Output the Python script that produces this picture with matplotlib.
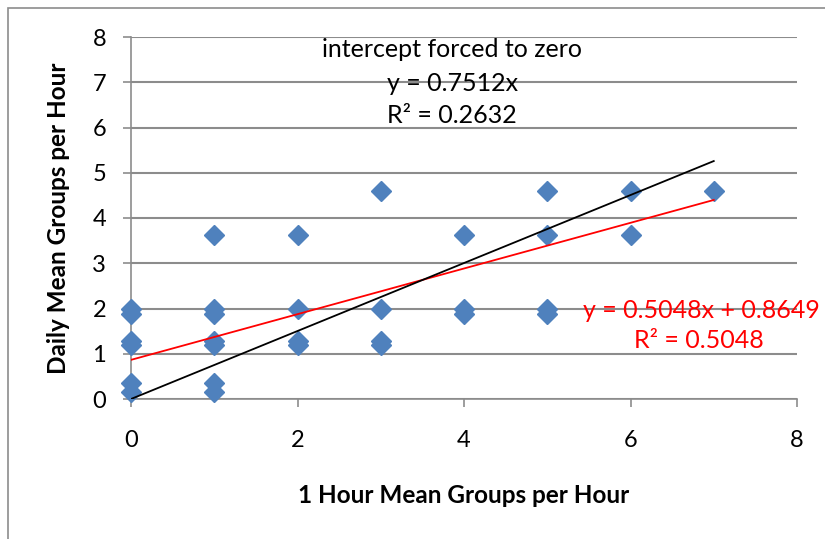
import matplotlib.pyplot as plt
import numpy as np
from matplotlib.patches import Rectangle

# scatter data (1 hour mean vs daily mean groups per hour)
x_vals = [0, 0, 0, 0, 0, 0,
          1, 1, 1, 1, 1, 1, 1,
          2, 2, 2, 2,
          3, 3, 3, 3,
          4, 4, 4,
          5, 5, 5, 5,
          6, 6,
          7]
y_vals = [2.0, 1.87, 1.29, 1.2, 0.36, 0.16,
          3.63, 2.0, 1.87, 1.29, 1.2, 0.36, 0.16,
          3.63, 2.0, 1.29, 1.2,
          4.59, 2.0, 1.29, 1.2,
          3.63, 2.0, 1.87,
          4.59, 3.63, 2.0, 1.87,
          4.59, 3.63,
          4.59]

# trendline coefficients shown on the chart
lin_slope, lin_icpt = 0.5048, 0.8649
zero_slope = 0.7512
trend_x = [0, 7]

font = "Lato"
plt.rcParams['font.family'] = [font, 'DejaVu Sans']

fig = plt.figure(figsize=(8.25, 5.39), dpi=100)
fig.patches.append(Rectangle((8 / 825, -0.1), 1.2, (539 - 8) / 539 + 0.1,
                             transform=fig.transFigure, fill=False,
                             edgecolor="#8c8c8c", linewidth=1.2))

ax = fig.add_axes([131 / 825, (539 - 399) / 539, (797 - 131) / 825, (399 - 37) / 539])
ax.set_xlim(0, 8)
ax.set_ylim(0, 8)

ax.yaxis.grid(True, color="#8c8c8c", linewidth=1.5)
ax.set_axisbelow(True)
for s in ["top", "right"]:
    ax.spines[s].set_visible(False)
for s in ["left", "bottom"]:
    ax.spines[s].set_color("#8c8c8c")
    ax.spines[s].set_linewidth(1.2)

ax.set_xticks(range(0, 9, 2))
ax.set_yticks(range(0, 9))
ax.tick_params(axis="both", colors="#8c8c8c", labelcolor="black", labelsize=17,
               length=6, width=1.2)
ax.tick_params(axis="x", pad=16)
ax.tick_params(axis="y", pad=12)

ax.plot(x_vals, y_vals, linestyle="none", marker="D", markersize=10,
        color="#4f81bd", clip_on=False, zorder=3)

tx = np.array(trend_x)
ax.plot(tx, lin_slope * tx + lin_icpt, color="red", linewidth=1.3, zorder=4)
ax.plot(tx, zero_slope * tx, color="black", linewidth=1.3, zorder=4)

ax.set_xlabel("1 Hour Mean Groups per Hour", fontsize=17.5, fontweight="bold", labelpad=24)
ax.set_ylabel("Daily Mean Groups per Hour", fontsize=17.5, fontweight="bold", labelpad=16)

ax.text(3.86, 7.72, "intercept forced to zero", fontsize=18, ha="center", va="center")
ax.text(3.86, 6.98, "y = 0.7512x", fontsize=18, ha="center", va="center")
ax.text(3.86, 6.27, "R² = 0.2632", fontsize=18, ha="center", va="center")

ax.text(8.28, 1.95, "y = 0.5048x + 0.8649", fontsize=18, ha="right", va="center",
        color="red", clip_on=False)
ax.text(6.82, 1.3, "R² = 0.5048", fontsize=18, ha="center", va="center",
        color="red", clip_on=False)

fig.savefig("out.png", dpi=100)
